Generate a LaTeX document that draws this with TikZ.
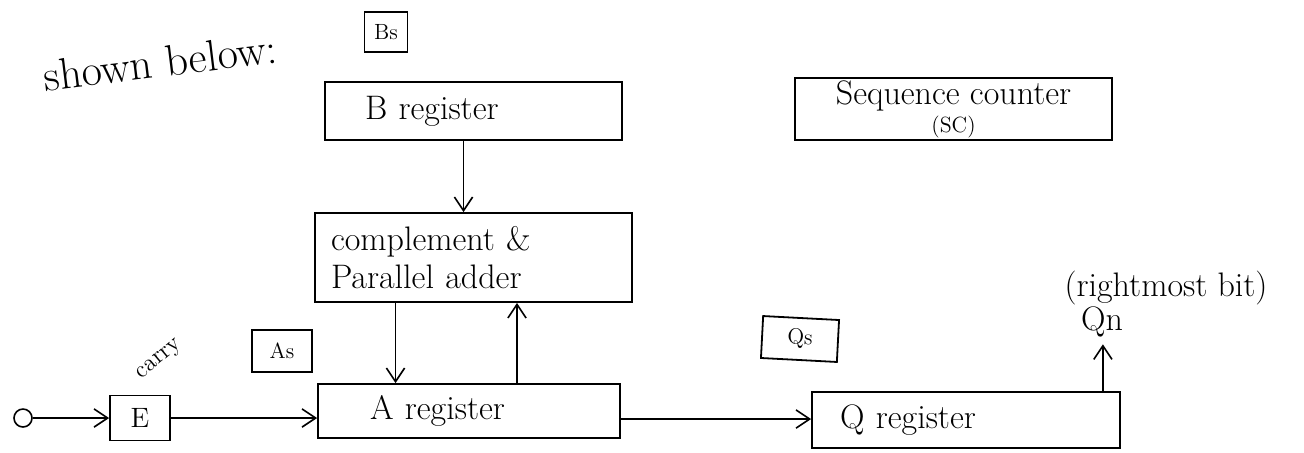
\documentclass[tikz,border=0pt]{standalone}
\usetikzlibrary{arrows.meta,positioning,calc}
\begin{document}
\begin{tikzpicture}[
  x=1pt, y=-1pt,
  hand/.style={font=\fontsize{17}{19}\selectfont},
  reg/.style={draw, line width=0.9pt, hand, minimum height=#1, align=left},
  tag/.style={draw, line width=0.9pt, font=\fontsize{11}{12}\selectfont,
              inner sep=2pt},
  ar/.style={-{Straight Barb[length=2.4mm, width=3.2mm]}, line width=0.8pt}
]
  \useasboundingbox (0,0) rectangle (652,226);
  \node[hand, font=\fontsize{22}{24}\selectfont, rotate=7] (title) at (80,31) {shown below:};
  \node[tag, minimum width=21.5pt, minimum height=20pt] (bs) at (193,16) {Bs};
  \node[reg=29pt, text width=108.5pt, inner xsep=20pt] (breg) at (236.75,55.5) {B register};
  \node[reg=31pt, minimum width=158.5pt, align=center, inner ysep=1pt] (sc) at (476.75,54.5)
       {Sequence counter\\[-5pt]{\fontsize{11}{12}\selectfont (SC)}};
  \node[reg=44.5pt, text width=142.5pt, inner xsep=8pt] (adder) at (236.75,128.75)
       {complement \&\\Parallel adder};
  \node[reg=27pt, text width=99pt, inner xsep=26pt] (areg) at (234.5,205.5) {A register};
  \node[reg=28pt, text width=126pt, inner xsep=14pt] (qreg) at (483,210) {Q register};
  \node[tag, minimum width=30pt, minimum height=22.5pt, font=\fontsize{14}{15}\selectfont] (e) at (70,209) {E};
  \node[draw, circle, line width=0.8pt, minimum size=9pt, inner sep=0pt] (in) at (11.5,209) {};
  \node[tag, minimum width=30pt, minimum height=21pt] (as) at (141,175.5) {As};
  \node[tag, minimum width=38pt, minimum height=21pt, rotate=-3] (qs) at (400,169.5) {Qs};
  \node[font=\fontsize{12}{13}\selectfont, rotate=40] (carry) at (80,180) {carry};
  \node[hand] (qn) at (551,161) {Qn};
  \node[hand] (rmb) at (583,144) {(rightmost bit)};
  % data paths
  \draw[ar] ([xshift=-5pt]breg.south) -- ([xshift=-5pt]breg.south |- adder.north);
  \draw[ar] ([xshift=-39pt]adder.south) -- ([xshift=-39pt]adder.south |- areg.north);
  \draw[ar] ([xshift=24pt]areg.north) -- ([xshift=24pt]areg.north |- adder.south);
  \draw[ar] (in) -- (in -| e.west);
  \draw[ar] (e.east) -- (e.east -| areg.west);
  \draw[ar] ([yshift=-4pt]areg.east) -- ([yshift=-4pt]areg.east -| qreg.west);
  \draw[ar] ([xshift=-9pt]qreg.north east) -- ([xshift=-9pt]qreg.north east |- qn.south);
\end{tikzpicture}
\end{document}
